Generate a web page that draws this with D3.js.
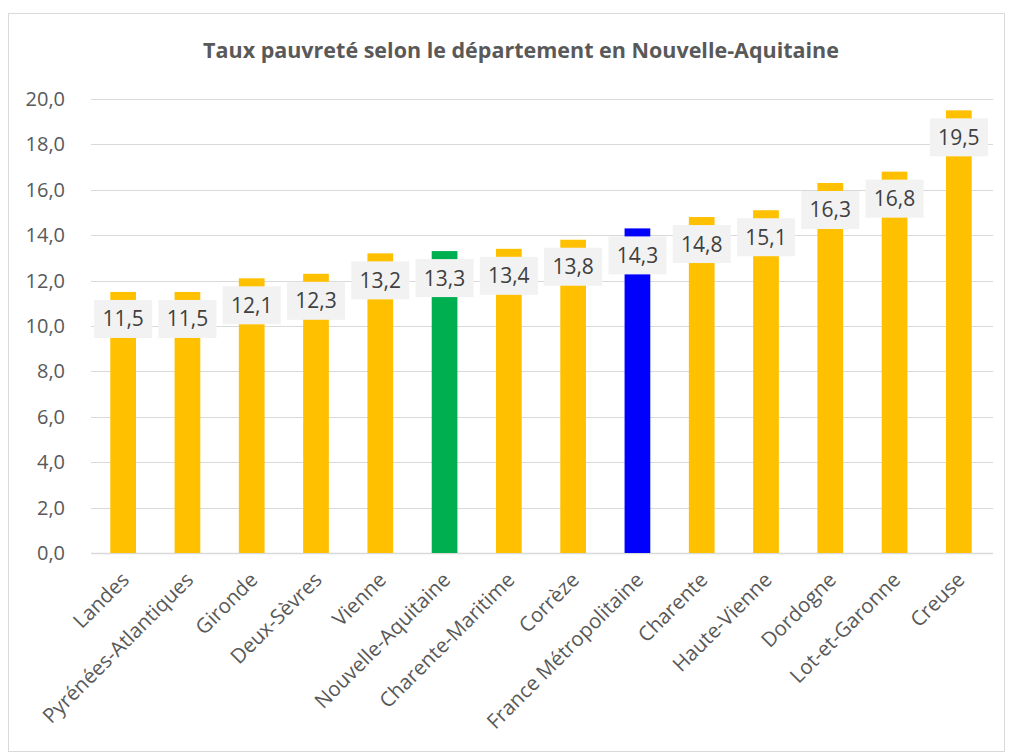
<!DOCTYPE html>
<html>
<head>
<meta charset="utf-8">
<script src="https://cdn.jsdelivr.net/npm/d3@7"></script>
<style>
  body { margin: 0; background: #fff; }
  svg { font-family: "Open Sans", sans-serif; }
</style>
</head>
<body>
<div id="chart"></div>
<script>
const departements = ["Landes", "Pyrénées-Atlantiques", "Gironde", "Deux-Sèvres", "Vienne",
  "Nouvelle-Aquitaine", "Charente-Maritime", "Corrèze", "France Métropolitaine", "Charente",
  "Haute-Vienne", "Dordogne", "Lot-et-Garonne", "Creuse"];
const taux = [11.5, 11.5, 12.1, 12.3, 13.2, 13.3, 13.4, 13.8, 14.3, 14.8, 15.1, 16.3, 16.8, 19.5];
const couleurs = ["#FFC000", "#FFC000", "#FFC000", "#FFC000", "#FFC000", "#00B050", "#FFC000",
  "#FFC000", "#0000FF", "#FFC000", "#FFC000", "#FFC000", "#FFC000", "#FFC000"];
const yTicks = [0, 2, 4, 6, 8, 10, 12, 14, 16, 18, 20];

const width = 1009, height = 755;
const margin = { top: 99, right: 16, bottom: 202, left: 91 };
const fmt = v => d3.format(".1f")(v).replace(".", ",");

const svg = d3.select("#chart").append("svg")
  .attr("width", width)
  .attr("height", height);

// cadre du graphique
svg.append("rect")
  .attr("x", 8.5).attr("y", 13.5)
  .attr("width", 996).attr("height", 738)
  .attr("fill", "#fff")
  .attr("stroke", "#d9d9d9");

svg.append("text")
  .attr("x", 521).attr("y", 58)
  .attr("text-anchor", "middle")
  .attr("font-size", 21.5)
  .attr("font-weight", "bold")
  .attr("fill", "#595959")
  .text("Taux pauvreté selon le département en Nouvelle-Aquitaine");

const x = d3.scaleBand()
  .domain(departements)
  .range([margin.left, width - margin.right - 2])
  .paddingInner(0.6)
  .paddingOuter(0.3);

const y = d3.scaleLinear()
  .domain([0, 20])
  .range([height - margin.bottom, margin.top]);

// grille
svg.append("g")
  .selectAll("line")
  .data(yTicks)
  .join("line")
  .attr("x1", margin.left).attr("x2", width - margin.right)
  .attr("y1", d => Math.round(y(d)) + 0.5).attr("y2", d => Math.round(y(d)) + 0.5)
  .attr("stroke", "#d9d9d9")
  .attr("stroke-width", d => d === 0 ? 1.5 : 1);

const yAxis = svg.append("g")
  .attr("transform", `translate(${margin.left - 23},0)`)
  .call(d3.axisLeft(y).tickValues(yTicks).tickFormat(fmt).tickSize(0));
yAxis.select(".domain").remove();
yAxis.selectAll("text")
  .attr("font-size", 20)
  .attr("font-family", "Open Sans")
  .attr("fill", "#595959")
  .attr("dx", 0);

// barres
svg.append("g")
  .selectAll("rect")
  .data(departements)
  .join("rect")
  .attr("x", d => x(d))
  .attr("width", x.bandwidth())
  .attr("y", (d, i) => y(taux[i]))
  .attr("height", (d, i) => y(0) - y(taux[i]))
  .attr("fill", (d, i) => couleurs[i]);

// étiquettes de données
const labels = svg.append("g")
  .selectAll("g")
  .data(departements)
  .join("g")
  .attr("transform", (d, i) => `translate(${x(d) + x.bandwidth() / 2},${y(taux[i]) + 8})`);

labels.append("rect")
  .attr("x", -29).attr("width", 58)
  .attr("y", 0).attr("height", 38)
  .attr("fill", "#f2f2f2");

labels.append("text")
  .attr("y", 26.5)
  .attr("text-anchor", "middle")
  .attr("font-size", 21)
  .attr("fill", "#404040")
  .text((d, i) => fmt(taux[i]));

// axe des catégories
svg.append("g")
  .selectAll("text")
  .data(departements)
  .join("text")
  .attr("transform", d => `translate(${x(d) + x.bandwidth() / 2 - 3},${y(0) + 18}) rotate(-45)`)
  .attr("text-anchor", "end")
  .attr("dy", "0.7em")
  .attr("font-size", 20.5)
  .attr("fill", "#595959")
  .text(d => d);
</script>
</body>
</html>
